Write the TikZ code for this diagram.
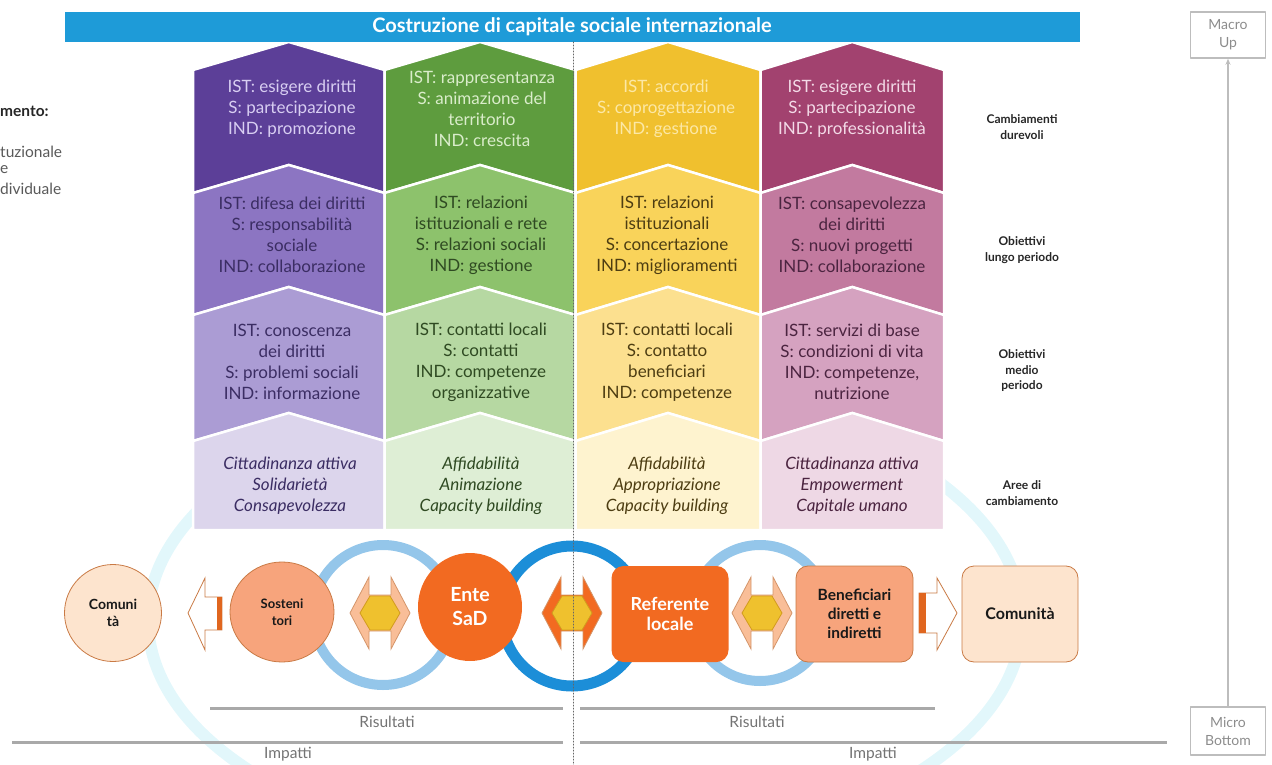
\documentclass[tikz,border=0pt]{standalone}
\usepackage{fontspec}
\setmainfont{Lato}
\usetikzlibrary{shapes.geometric,arrows.meta}

\definecolor{banner}{HTML}{1E9BD8}
\definecolor{purA}{HTML}{5C3F98}\definecolor{purB}{HTML}{8C75C2}\definecolor{purC}{HTML}{AB9CD4}\definecolor{purD}{HTML}{DCD5EC}
\definecolor{greA}{HTML}{5E9C3E}\definecolor{greB}{HTML}{8DC26C}\definecolor{greC}{HTML}{B6D8A2}\definecolor{greD}{HTML}{DEEED5}
\definecolor{yelA}{HTML}{F0C02E}\definecolor{yelB}{HTML}{F9D35A}\definecolor{yelC}{HTML}{FCE08F}\definecolor{yelD}{HTML}{FEF3CF}
\definecolor{magA}{HTML}{A2426F}\definecolor{magB}{HTML}{C27A9F}\definecolor{magC}{HTML}{D5A2C0}\definecolor{magD}{HTML}{EED8E5}
\definecolor{purT}{HTML}{D8CEF2}\definecolor{greT}{HTML}{DAEDCB}\definecolor{yelT}{HTML}{FCE8A6}\definecolor{magT}{HTML}{F3DAE7}
\definecolor{purK}{HTML}{3B2D63}\definecolor{greK}{HTML}{2F4A22}\definecolor{yelK}{HTML}{4D3D12}\definecolor{magK}{HTML}{4B2440}
\definecolor{sadOrange}{HTML}{F26A21}
\definecolor{salmon}{HTML}{F7A47C}
\definecolor{peach}{HTML}{FDE4CE}
\definecolor{edgeBrown}{HTML}{C97A45}
\definecolor{linkLight}{HTML}{F9BE98}
\definecolor{hexYellow}{HTML}{EFC12E}
\definecolor{hexEdge}{HTML}{D29B1E}
\definecolor{barOrange}{HTML}{E0661F}
\definecolor{ringLight}{HTML}{94C6EA}
\definecolor{ringDark}{HTML}{1C8ED8}
\definecolor{halo}{HTML}{E2F7FB}
\definecolor{ruleGray}{HTML}{A9A9A9}
\definecolor{boxGray}{HTML}{BDBDBD}

\newcommand{\chd}{28}
\newcommand{\chevpiece}[5]{%
  \filldraw[fill=#5, draw=white, line width=2.5pt, line join=miter]
    (#1,#3+\chd) -- ({(#1+#2)/2},#3) -- (#2,#3+\chd) -- (#2,#4+\chd) -- ({(#1+#2)/2},#4) -- (#1,#4+\chd) -- cycle;}

\tikzset{
  coltext/.style={align=center, inner sep=0pt, font=\fontsize{17}{21}\selectfont},
  areatext/.style={align=center, inner sep=0pt, font=\fontsize{17}{21}\selectfont\itshape},
  levellabel/.style={align=center, inner sep=0pt, text=black!85, font=\fontsize{12}{15.5}\selectfont\bfseries},
  sidetext/.style={anchor=west, inner sep=0pt, text=black!65, font=\fontsize{15.5}{18}\selectfont},
  actor/.style={align=center, inner sep=0pt, font=\fontsize{13}{17}\selectfont\bfseries, text=black!90},
  rulelabel/.style={inner sep=0pt, text=black!55, font=\fontsize{15.5}{17}\selectfont},
  levelbox/.style={draw=boxGray, line width=1.5pt, align=center, text=black!45, font=\fontsize{14}{18}\selectfont}
}

\begin{document}
\begin{tikzpicture}[x=1pt, y=-1pt, line cap=round, line join=round]
\useasboundingbox (0,0) rectangle (1272,765);
% faint halo behind everything
\draw[halo, line width=12pt] (585,620) ellipse[x radius=437, y radius=235];
% columns of chevrons
\foreach \xl/\xr/\ca/\cb/\cc/\cd in {193/384.5/purA/purB/purC/purD, 384.5/575.5/greA/greB/greC/greD, 575.5/760.5/yelA/yelB/yelC/yelD, 760.5/944/magA/magB/magC/magD}{
  \chevpiece{\xl}{\xr}{42}{165}{\ca}
  \chevpiece{\xl}{\xr}{165}{287}{\cb}
  \chevpiece{\xl}{\xr}{287}{413}{\cc}
  \filldraw[fill=\cd, draw=white, line width=2.5pt, line join=miter]
    (\xl,413+\chd) -- ({(\xl+\xr)/2},413) -- (\xr,413+\chd) -- (\xr,530) -- (\xl,530) -- cycle;
}
% banner
\fill[banner] (65,12) rectangle (1080,42);
\node[inner sep=0pt, text=white, font=\fontsize{20}{22}\selectfont\bfseries] (title) at (572,27) {Costruzione di capitale sociale internazionale};
% purple column
\node[coltext, text=purT] (purA) at (292,109) {IST: esigere diritti\\S: partecipazione\\IND: promozione};
\node[coltext, text=purK] (purB) at (292,235) {IST: difesa dei diritti\\S: responsabilità\\sociale\\IND: collaborazione};
\node[coltext, text=purK] (purC) at (292,362) {IST: conoscenza\\dei diritti\\S: problemi sociali\\IND: informazione};
\node[areatext, text=purK] (purD) at (290,486) {Cittadinanza attiva\\Solidarietà\\Consapevolezza};
% green column
\node[coltext, text=greT] (greA) at (482,109) {IST: rappresentanza\\S: animazione del\\territorio\\IND: crescita};
\node[coltext, text=greK] (greB) at (481,235) {IST: relazioni\\istituzionali e rete\\S: relazioni sociali\\IND: gestione};
\node[coltext, text=greK] (greC) at (481,362) {IST: contatti locali\\S: contatti\\IND: competenze\\organizzative};
\node[areatext, text=greK] (greD) at (481,486) {Affidabilità\\Animazione\\Capacity building};
% yellow column
\node[coltext, text=yelT] (yelA) at (666,109) {IST: accordi\\S: coprogettazione\\IND: gestione};
\node[coltext, text=yelK] (yelB) at (667,235) {IST: relazioni\\istituzionali\\S: concertazione\\IND: miglioramenti};
\node[coltext, text=yelK] (yelC) at (667,362) {IST: contatti locali\\S: contatto\\beneficiari\\IND: competenze};
\node[areatext, text=yelK] (yelD) at (667,486) {Affidabilità\\Appropriazione\\Capacity building};
% magenta column
\node[coltext, text=magT] (magA) at (852,109) {IST: esigere diritti\\S: partecipazione\\IND: professionalità};
\node[coltext, text=magK] (magB) at (852,235) {IST: consapevolezza\\dei diritti\\S: nuovi progetti\\IND: collaborazione};
\node[coltext, text=magK] (magC) at (852,362) {IST: servizi di base\\S: condizioni di vita\\IND: competenze,\\nutrizione};
\node[areatext, text=magK] (magD) at (852,486) {Cittadinanza attiva\\Empowerment\\Capitale umano};
% level labels
\node[levellabel] (lvA) at (1022,127) {Cambiamenti\\durevoli};
\node[levellabel] (lvB) at (1022,250) {Obiettivi\\lungo periodo};
\node[levellabel] (lvC) at (1022,371) {Obiettivi\\medio\\periodo};
\node[levellabel] (lvD) at (1022,493) {Aree di\\cambiamento};
% cut-off legend on the left
\node[sidetext, text=black!85, font=\fontsize{15.5}{18}\selectfont\bfseries] (lgA) at (0,111) {mento:};
\node[sidetext] (lgB) at (0,152) {tuzionale};
\node[sidetext] (lgC) at (0,170) {e};
\node[sidetext] (lgD) at (0,189) {dividuale};
% rings
\draw[ringLight, line width=10pt] (383,615) circle[radius=70];
\draw[ringDark, line width=11pt] (572,616) circle[radius=70];
\draw[ringLight, line width=10pt] (760,613) circle[radius=68];
% actors
\node[actor, ellipse, fill=peach, draw=edgeBrown, line width=0.8pt, minimum width=97, minimum height=97, font=\fontsize{14}{17}\selectfont\bfseries] (comA) at (113,613) {Comuni\\tà};
\node[actor, ellipse, fill=salmon, draw=edgeBrown, line width=0.8pt, minimum width=104, minimum height=100] (sost) at (282,612) {Sosteni\\tori};
\node[actor, ellipse, fill=sadOrange, text=white, minimum width=104, minimum height=108, font=\fontsize{19.5}{24}\selectfont\bfseries] (ente) at (470,607) {Ente\\SaD};
\node[actor, rectangle, rounded corners=12pt, fill=sadOrange, text=white, minimum width=117, minimum height=96, font=\fontsize{18}{20}\selectfont\bfseries] (refe) at (670,614) {Referente\\locale};
\node[actor, rectangle, rounded corners=12pt, fill=salmon, draw=edgeBrown, line width=0.8pt, minimum width=117, minimum height=96, font=\fontsize{15.5}{19}\selectfont\bfseries] (bene) at (854.5,614) {Beneficiari\\diretti e\\indiretti};
\node[actor, rectangle, rounded corners=12pt, fill=peach, draw=edgeBrown, line width=0.8pt, minimum width=116, minimum height=96, font=\fontsize{16}{18}\selectfont\bfseries] (comB) at (1020,614) {Comunità};
% two-way links
\coordinate (lnkA) at (380,613);
\coordinate (lnkB) at (572,613);
\coordinate (lnkC) at (762,613);
\foreach \lnk/\fc in {lnkA/linkLight, lnkB/sadOrange, lnkC/linkLight}{
  \begin{scope}[shift={(\lnk)}]
    \filldraw[fill=\fc, draw=edgeBrown!80, line width=0.8pt, line join=miter]
      (-30,0) -- (-11,-36) -- (-11,-18) -- (11,-18) -- (11,-36) -- (30,0) -- (11,36) -- (11,18) -- (-11,18) -- (-11,36) -- cycle;
    \filldraw[fill=hexYellow, draw=hexEdge, line width=0.8pt, line join=miter]
      (-20,0) -- (-10,-17) -- (10,-17) -- (20,0) -- (10,17) -- (-10,17) -- cycle;
  \end{scope}
}
% hollow arrows towards the communities
\filldraw[fill=white, draw=edgeBrown, line width=0.8pt, line join=miter]
  (188,613) -- (205,578) -- (205,597) -- (222,597) -- (222,630) -- (205,630) -- (205,650) -- cycle;
\fill[barOrange] (217,597) rectangle (222,630);
\filldraw[fill=white, draw=edgeBrown, line width=0.8pt, line join=miter]
  (957,613) -- (937,578) -- (937,593) -- (919,593) -- (919,633) -- (937,633) -- (937,650) -- cycle;
\fill[barOrange] (919,593) rectangle (926,633);
% result and impact rules
\draw[ruleGray, line width=3pt, line cap=butt] (210,708) -- (563,708);
\draw[ruleGray, line width=3pt, line cap=butt] (580,708) -- (935,708);
\draw[ruleGray, line width=3pt, line cap=butt] (12,742) -- (563,742);
\draw[ruleGray, line width=3pt, line cap=butt] (580,742) -- (1167,742);
\node[rulelabel] (resA) at (387,722) {Risultati};
\node[rulelabel] (resB) at (757,722) {Risultati};
\node[rulelabel] (impA) at (288,754) {Impatti};
\node[rulelabel] (impB) at (873,754) {Impatti};
% dotted divider
\draw[black!60, line width=1pt, dotted, line cap=round] (573,42) -- (573,765);
% micro to macro scale
\node[levelbox, minimum width=75, minimum height=46] (macro) at (1228,35) {Macro\\Up};
\node[levelbox, minimum width=75, minimum height=48] (micro) at (1228,731) {Micro\\Bottom};
\draw[boxGray, line width=1.2pt, -{Stealth[length=6pt,width=5pt]}] (micro) -- (macro);
\end{tikzpicture}
\end{document}
